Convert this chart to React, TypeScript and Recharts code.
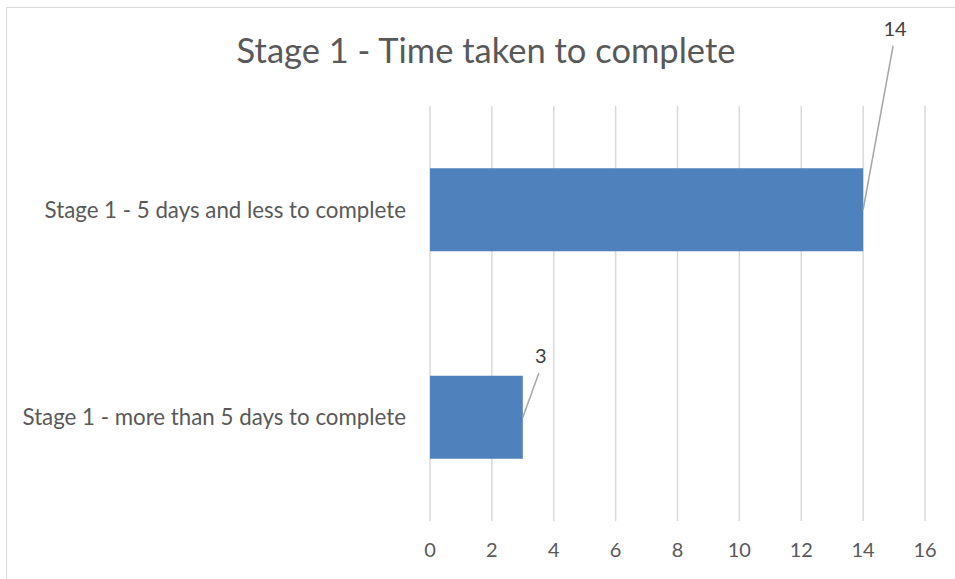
import { BarChart, Bar, XAxis, YAxis, CartesianGrid, LabelList } from 'recharts'

const CATEGORIES = ['Stage 1 - 5 days and less to complete', 'Stage 1 - more than 5 days to complete']
const VALUES = [14, 3]
const X_TICKS = [0, 2, 4, 6, 8, 10, 12, 14, 16]

// where each data label sits relative to the end of its bar
const LABEL_OFFSETS = [
  { dx: 32, dy: -174 },
  { dx: 18, dy: -54 },
]

const FONT = 'Lato, "Open Sans", sans-serif'
const TEXT = '#595959'

const data = CATEGORIES.map((name, i) => ({ name, value: VALUES[i] }))

function LeaderLabel(props: any) {
  const { x, y, width, height, index, value } = props
  const off = LABEL_OFFSETS[index] || { dx: 10, dy: -20 }
  const ex = x + width
  const ey = y + height / 2
  const lx = ex + off.dx
  const ly = ey + off.dy
  return (
    <g>
      <line x1={ex} y1={ey} x2={lx - 2} y2={ly + 10} stroke="#a6a6a6" strokeWidth={1.5} />
      <text x={lx} y={ly} textAnchor="middle" fontFamily={FONT} fontSize={20} fill="#404040">
        {value}
      </text>
    </g>
  )
}

export default function App() {
  return (
    <div style={{ position: 'absolute', left: 0, top: 0, width: 955, height: 579, background: '#fff' }}>
      <div
        style={{
          position: 'absolute',
          left: 6,
          top: 7,
          width: 960,
          height: 590,
          borderLeft: '1.5px solid #d9d9d9',
          borderTop: '1.5px solid #d9d9d9',
        }}
      />
      <div
        style={{
          position: 'absolute',
          left: 0,
          width: 972,
          top: 29,
          textAlign: 'center',
          fontFamily: FONT,
          fontSize: 34.5,
          color: TEXT,
        }}
      >
        Stage 1 - Time taken to complete
      </div>
      <div style={{ position: 'absolute', left: 0, top: 0 }}>
        <BarChart
          width={955}
          height={579}
          data={data}
          layout="vertical"
          margin={{ top: 106, right: 30, bottom: 28, left: 0 }}
          barCategoryGap="30%"
        >
          <CartesianGrid horizontal={false} stroke="#d9d9d9" strokeWidth={1.5} />
          <XAxis
            type="number"
            domain={[0, 16]}
            ticks={X_TICKS}
            axisLine={false}
            tickLine={false}
            tickSize={0}
            tickMargin={22}
            height={30}
            tick={{ fontFamily: FONT, fontSize: 20, fill: TEXT }}
          />
          <YAxis
            type="category"
            dataKey="name"
            width={430}
            axisLine={false}
            tickLine={false}
            tickSize={0}
            tickMargin={24}
            tick={{ fontFamily: FONT, fontSize: 22.3, fill: TEXT }}
          />
          <Bar dataKey="value" fill="#4f81bd" isAnimationActive={false}>
            <LabelList dataKey="value" content={<LeaderLabel />} />
          </Bar>
        </BarChart>
      </div>
    </div>
  )
}
